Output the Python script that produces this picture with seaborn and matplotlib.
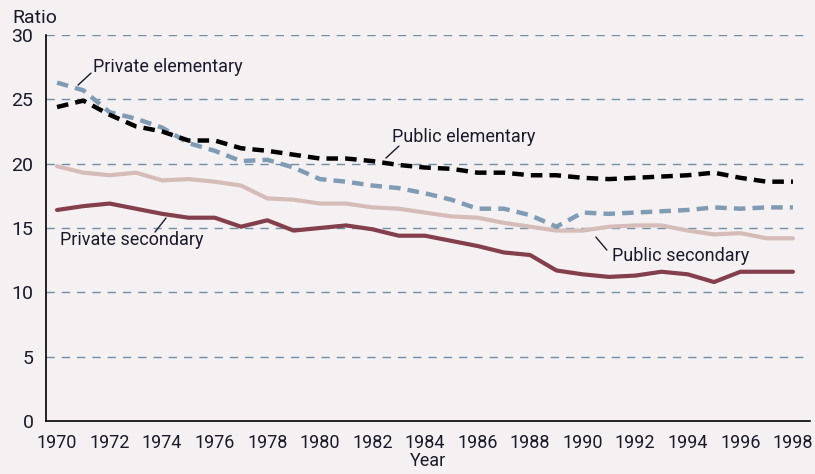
import seaborn as sns
import matplotlib.pyplot as plt
import pandas as pd

years = list(range(1970, 1999))
public_elem = [24.4, 24.9, 23.8, 22.9, 22.5, 21.8, 21.8, 21.2, 21.0, 20.7, 20.4, 20.4, 20.2, 19.9, 19.7,
               19.6, 19.3, 19.3, 19.1, 19.1, 18.9, 18.8, 18.9, 19.0, 19.1, 19.3, 18.9, 18.6, 18.6]
private_elem = [26.3, 25.7, 24.0, 23.5, 22.8, 21.6, 21.0, 20.2, 20.3, 19.7, 18.8, 18.6, 18.3, 18.1, 17.7,
                17.2, 16.5, 16.5, 16.0, 15.1, 16.2, 16.1, 16.2, 16.3, 16.4, 16.6, 16.5, 16.6, 16.6]
public_sec = [19.8, 19.3, 19.1, 19.3, 18.7, 18.8, 18.6, 18.3, 17.3, 17.2, 16.9, 16.9, 16.6, 16.5, 16.2,
              15.9, 15.8, 15.4, 15.1, 14.8, 14.8, 15.1, 15.2, 15.2, 14.8, 14.5, 14.6, 14.2, 14.2]
private_sec = [16.4, 16.7, 16.9, 16.5, 16.1, 15.8, 15.8, 15.1, 15.6, 14.8, 15.0, 15.2, 14.9, 14.4, 14.4,
               14.0, 13.6, 13.1, 12.9, 11.7, 11.4, 11.2, 11.3, 11.6, 11.4, 10.8, 11.6, 11.6, 11.6]

bg = "#f5f1f2"
sns.set_style("white", {"axes.facecolor": bg, "figure.facecolor": bg})
plt.rcParams['font.family'] = ['Roboto', 'DejaVu Sans']

fig = plt.figure(figsize=(8.15, 4.74), dpi=100)
ax = fig.add_axes([46/815, 1-421/474, (810-46)/815, (421-35)/474])

df = pd.DataFrame({"Year": years, "pe": public_elem, "pre": private_elem, "ps": public_sec, "prs": private_sec})

# grid lines first
for v in [5, 10, 15, 20, 25, 30]:
    ax.axhline(v, color="#6f8fa8", lw=1, ls=(0, (6, 5)), zorder=0)

sns.lineplot(data=df, x="Year", y="ps", color="#d6bcb8", lw=3, ax=ax)
sns.lineplot(data=df, x="Year", y="prs", color="#833f4c", lw=3, ax=ax)
sns.lineplot(data=df, x="Year", y="pre", color="#809cb4", lw=3.2, ax=ax, linestyle=(0, (2.6, 1.6)))
sns.lineplot(data=df, x="Year", y="pe", color="#000000", lw=3.2, ax=ax, linestyle=(0, (2.6, 1.6)))

ax.set_xlim(1969.58, 1998.65)
ax.set_ylim(0, 30)
ax.set_yticks([0, 5, 10, 15, 20, 25, 30])
ax.set_xticks(years, minor=False)
ax.set_xticklabels([str(y) if y % 2 == 0 else "" for y in years])
ax.tick_params(axis="x", length=5, width=1, direction="out", color="#000000", pad=4)
ax.tick_params(axis="y", length=0, pad=9)
for lab in ax.get_xticklabels() + ax.get_yticklabels():
    lab.set_fontsize(13)
    lab.set_color("#1a1a2a")
for lab in ax.get_yticklabels():
    lab.set_fontsize(14)

ax.set_xlabel("Year", fontsize=13, labelpad=0, color="#1a1a2a")
ax.set_ylabel("")
fig.text(12/815, 1-18/474, "Ratio", fontsize=14, va="center", ha="left", color="#1a1a2a")

for s in ["top", "right"]:
    ax.spines[s].set_visible(False)
for s in ["left", "bottom"]:
    ax.spines[s].set_color("#000000")
    ax.spines[s].set_linewidth(1.2)

def px2data(px, py):
    return 1970 + (px - 57) / 26.29, (421 - py) / 12.87

txt = "#1a1a2a"
notes = [
    ("Private elementary", (93, 67), (78, 85), (91, 73)),
    ("Public elementary", (392, 137), (386, 158), (399, 146)),
    ("Public secondary", (612, 256), (596, 237), (607, 250)),
    ("Private secondary", (60, 240), (166, 218), (155, 232)),
]
for label, tpos, l0, l1 in notes:
    tx, ty = px2data(*tpos)
    ax.text(tx, ty, label, fontsize=13, color=txt, ha="left", va="center")
    x0, y0 = px2data(*l0)
    x1, y1 = px2data(*l1)
    ax.plot([x0, x1], [y0, y1], color=txt, lw=1)

fig.savefig("out.png", dpi=100, facecolor=bg)
